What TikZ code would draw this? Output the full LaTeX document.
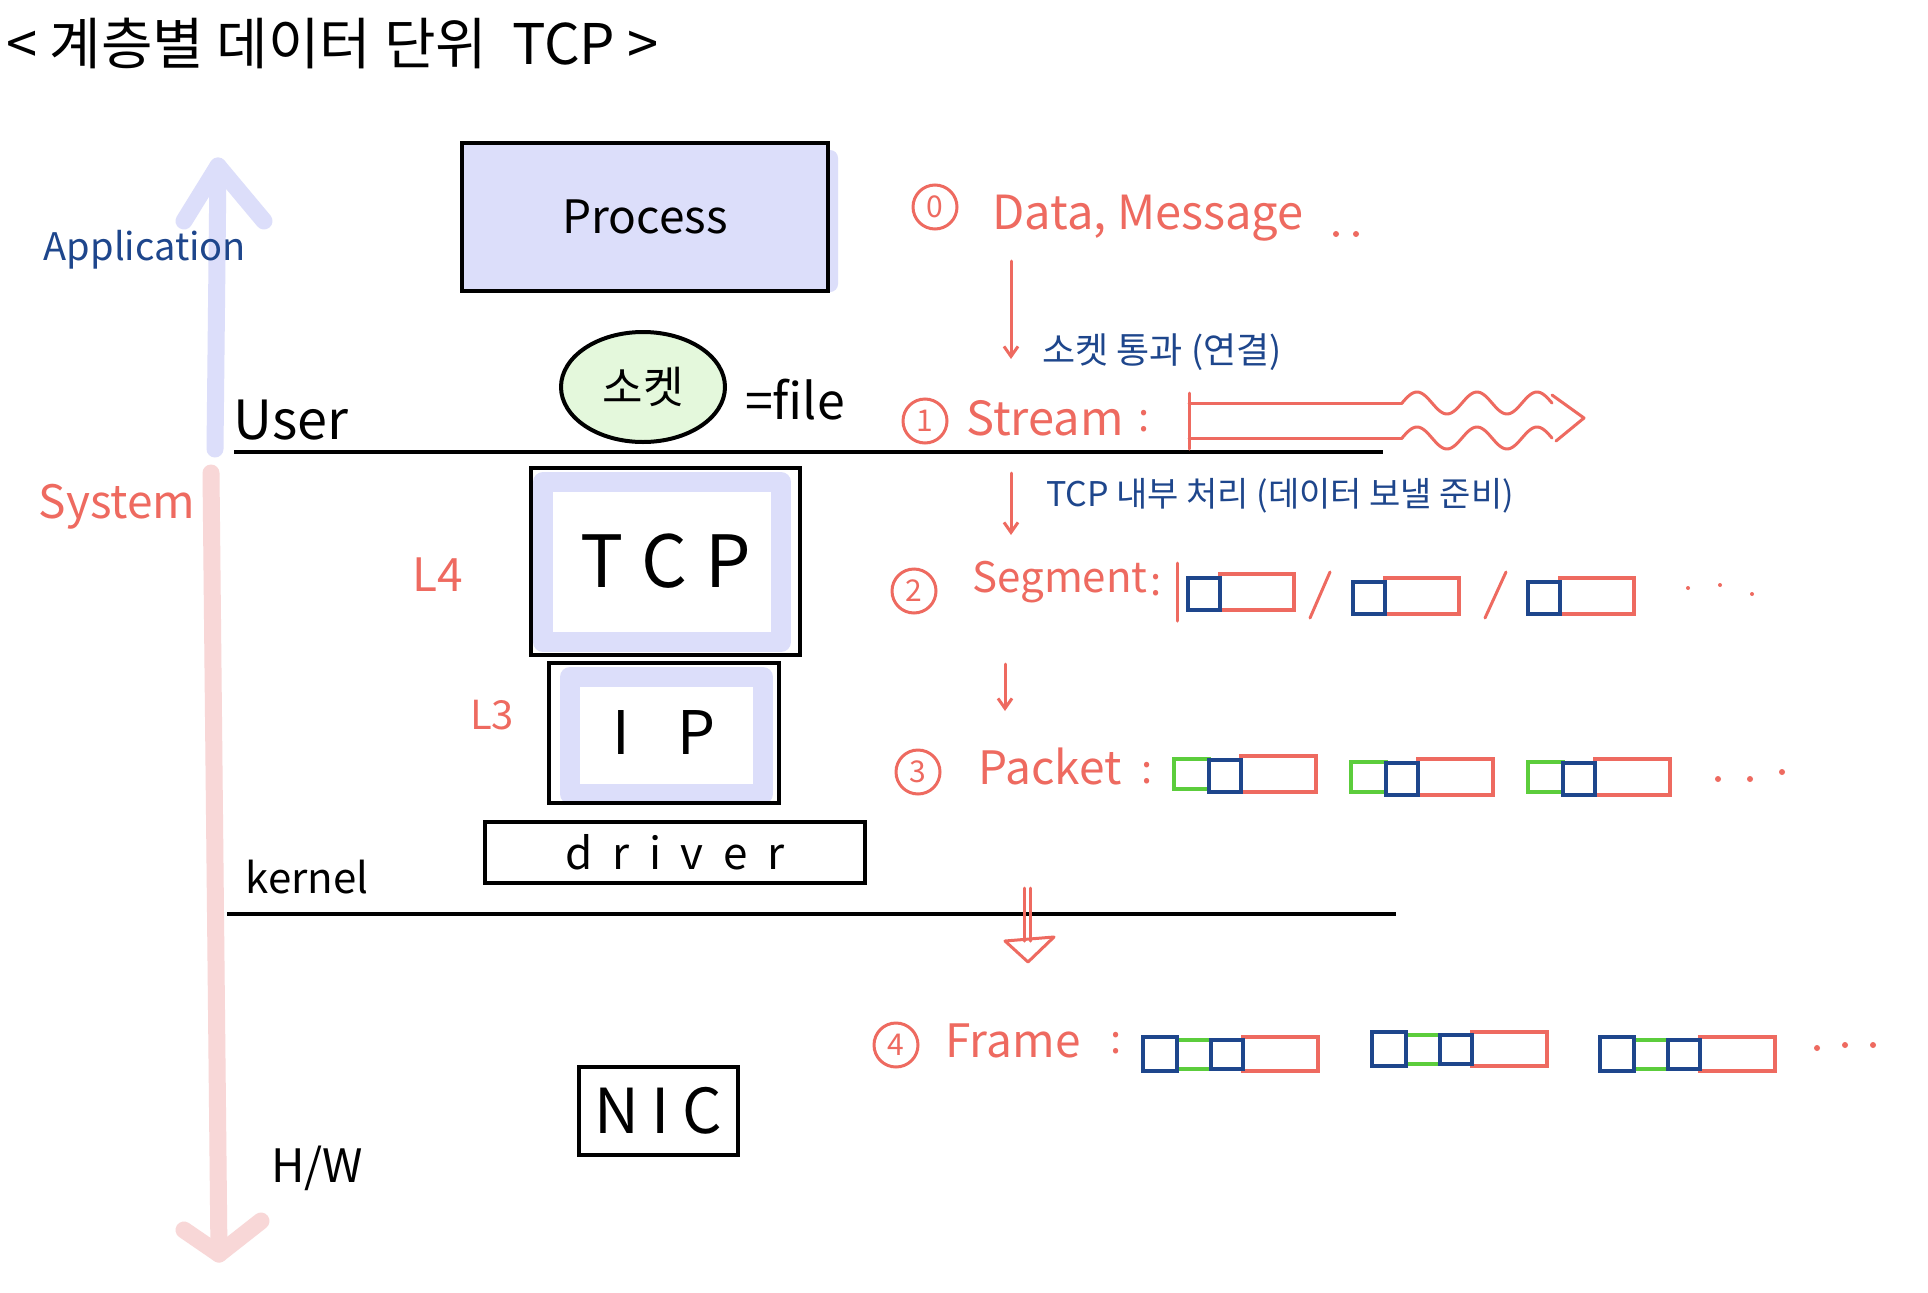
\documentclass[tikz,border=0pt]{standalone}
\usepackage{fontspec}
\setmainfont{Noto Sans CJK KR}
\usetikzlibrary{arrows.meta,shapes.geometric}
\definecolor{cred}{HTML}{EE6A60}
\definecolor{cblue}{HTML}{1E468C}
\definecolor{cgreen}{HTML}{5CCD3C}
\definecolor{lav}{HTML}{DCDEFA}
\definecolor{pinkc}{HTML}{F8D7D7}
\definecolor{lgreen}{HTML}{E4F8DC}
\newcommand\fsz[1]{\fontsize{#1}{#1}\selectfont}
\newcommand\SegUnit[2]{%
  \draw[redbox] ({#1+32},{#2-4}) rectangle ({#1+106},{#2+32});
  \draw[bluebox] (#1,#2) rectangle ({#1+32},{#2+32});}
\newcommand\PktUnit[2]{%
  \draw[redbox] ({#1+67},{#2-3}) rectangle ({#1+142},{#2+33});
  \draw[greenbox] (#1,#2) rectangle ({#1+35},{#2+30});
  \draw[bluebox] ({#1+35},{#2+1}) rectangle ({#1+67},{#2+33});}
\newcommand\FrmUnit[2]{%
  \draw[redbox] ({#1+100},#2) rectangle ({#1+175},{#2+34});
  \draw[greenbox] ({#1+34},{#2+3}) rectangle ({#1+68},{#2+32});
  \draw[bluebox] (#1,#2) rectangle ({#1+34},{#2+34});
  \draw[bluebox] ({#1+68},{#2+3}) rectangle ({#1+100},{#2+32});}
\begin{document}
\begin{tikzpicture}[x=1pt,y=-1pt,
  box/.style={draw=black, line width=4pt, inner sep=0pt},
  band/.style={draw=lav, line width=20pt, line join=round},
  redbox/.style={draw=cred, line width=4pt},
  bluebox/.style={draw=cblue, line width=4pt},
  greenbox/.style={draw=cgreen, line width=4pt},
  redline/.style={draw=cred, line width=3pt, line cap=round, line join=round},
  redarrow/.style={redline, -{Straight Barb[length=10pt,width=14pt,line width=3pt]}},
  circnum/.style={circle, draw=cred, line width=3pt, text=cred, minimum size=44pt, inner sep=0pt, font=\fsz{30}},
  redtxt/.style={text=cred, inner sep=0pt},
  bluetxt/.style={text=cblue, inner sep=0pt},
  blacktxt/.style={text=black, inner sep=0pt},
  layerline/.style={draw=black, line width=4pt},
  bigarrow/.style={line width=17pt, line cap=round, line join=round}
]
\useasboundingbox (0,0) rectangle (1928,1293);
\fill[white] (0,0) rectangle (1928,1293);

% title
\node[blacktxt, anchor=west, font=\fsz{56}] (title) at (6,43) {< 계층별 데이터 단위 \ TCP >};

% side arrows
\coordinate (appbot) at (215,449);
\coordinate (apptop) at (218,166);
\coordinate (appl) at (184,221);
\coordinate (appr) at (264,221);
\draw[lav, bigarrow] (appbot) -- (apptop);
\draw[lav, bigarrow] (appl) -- (apptop) -- (appr);
\coordinate (systop) at (211,473);
\coordinate (sysbot) at (219,1254);
\coordinate (sysl) at (184,1230);
\coordinate (sysr) at (261,1221);
\draw[pinkc, bigarrow] (systop) -- (sysbot);
\draw[pinkc, bigarrow] (sysl) -- (sysbot) -- (sysr);

\node[bluetxt, font=\fsz{38}] (application) at (145,250) {Application};
\node[redtxt, font=\fsz{46}] (system) at (117,507) {System};
\node[blacktxt, font=\fsz{54}] (user) at (291,420) {User};
\node[blacktxt, font=\fsz{42}] (kernel) at (307,877) {kernel};
\node[blacktxt, font=\fsz{46}] (hw) at (317,1168) {H/W};

% layer lines
\coordinate (ul1) at (234,452);
\coordinate (ul2) at (1383,452);
\coordinate (kl1) at (227,914);
\coordinate (kl2) at (1396,914);
\draw[layerline] (ul1) -- (ul2);
\draw[layerline] (kl1) -- (kl2);

% process
\fill[lav, rounded corners=8pt] (800,150) rectangle (838,292);
\node[box, fill=lav, minimum width=366pt, minimum height=148pt, font=\fsz{46}] (process) at (645,217) {Process};

% socket
\node[ellipse, draw=black, line width=4pt, fill=lgreen, minimum width=164pt, minimum height=110pt, inner sep=0pt, font=\fsz{44}] (socket) at (643,387) {소켓};
\node[blacktxt, font=\fsz{50}] (file) at (795,400) {=file};

% TCP
\draw[band] (543,482) rectangle (781,642);
\node[box, minimum width=269pt, minimum height=187pt, font=\fsz{72}] (tcp) at (665.5,561.5) {T\hspace{0.25em}C\hspace{0.25em}P};
% IP
\draw[band] (570,677) rectangle (763,794);
\node[box, minimum width=230pt, minimum height=140pt, font=\fsz{60}] (ip) at (664,733) {I\hspace{0.8em}P};
% driver
\node[box, minimum width=380pt, minimum height=61pt, font=\fsz{44}] (driver) at (675,852.5) {d\hspace{0.45em}r\hspace{0.45em}i\hspace{0.45em}v\hspace{0.45em}e\hspace{0.45em}r};
% NIC
\node[box, minimum width=159pt, minimum height=88pt, font=\fsz{62}] (nic) at (658.5,1111) {N\hspace{0.2em}I\hspace{0.2em}C};

\node[redtxt, font=\fsz{46}] (l4) at (438,575) {L4};
\node[redtxt, font=\fsz{40}] (l3) at (492,715) {L3};

% 0 Data
\node[circnum] (c0) at (935,207) {0};
\node[redtxt, font=\fsz{47}] (data) at (1148,218) {Data, Message};
\fill[cred] (1336,234) circle (3pt) (1356,234) circle (3pt);
\coordinate (a1s) at (1011,261);
\coordinate (a1e) at (1011,359);
\draw[redarrow] (a1s) -- (a1e);
\node[bluetxt, font=\fsz{36}] (sockpass) at (1162,352) {소켓 통과 (연결)};

% 1 Stream
\node[circnum] (c1) at (925,421) {1};
\node[redtxt, font=\fsz{47}] (stream) at (1045,418) {Stream};
\node[redtxt, font=\fsz{40}] (col1) at (1144,421) {:};
\coordinate (sb1) at (1189,393);
\coordinate (sb2) at (1189,449);
\draw[redline] (sb1) -- (sb2);
\coordinate (st0) at (1189,403);
\coordinate (st1) at (1402,403);
\coordinate (sbt0) at (1189,438);
\coordinate (sbt1) at (1402,438);
\draw[redline] (st0) -- (st1);
\draw[redline] (sbt0) -- (sbt1);
\draw[redline] plot[domain=0:150, samples=80] ({1402+\x},{403-11*sin(\x*6)});
\draw[redline] plot[domain=0:150, samples=80] ({1402+\x},{438-11*sin(\x*6)});
\coordinate (sh1) at (1552,395);
\coordinate (shtip) at (1584,418);
\coordinate (sh2) at (1556,441);
\draw[redline] (sh1) -- (shtip) -- (sh2);

\coordinate (a2s) at (1011,473);
\coordinate (a2e) at (1011,535);
\draw[redarrow] (a2s) -- (a2e);
\node[bluetxt, font=\fsz{34}] (tcpproc) at (1280,496) {TCP 내부 처리 (데이터 보낼 준비)};

% 2 Segment
\node[circnum] (c2) at (914,591) {2};
\node[redtxt, font=\fsz{42}] (segment) at (1060,582) {Segment};
\node[redtxt, font=\fsz{40}] (col2) at (1156,585) {:};
\coordinate (vb1) at (1177,563);
\coordinate (vb2) at (1177,621);
\draw[redline] (vb1) -- (vb2);
\SegUnit{1188}{578}
\SegUnit{1353}{582}
\SegUnit{1528}{582}
\coordinate (sl1a) at (1310,618);
\coordinate (sl1b) at (1330,572);
\coordinate (sl2a) at (1485,618);
\coordinate (sl2b) at (1506,572);
\draw[redline] (sl1a) -- (sl1b);
\draw[redline] (sl2a) -- (sl2b);
\fill[cred] (1688,588) circle (2pt) (1720,585) circle (2pt) (1752,594) circle (2pt);

\coordinate (a3s) at (1005,664);
\coordinate (a3e) at (1005,711);
\draw[redarrow] (a3s) -- (a3e);

% 3 Packet
\node[circnum] (c3) at (918,772) {3};
\node[redtxt, font=\fsz{46}] (packet) at (1050,766) {Packet};
\node[redtxt, font=\fsz{40}] (col3) at (1147,773) {:};
\PktUnit{1174}{759}
\PktUnit{1351}{762}
\PktUnit{1528}{762}
\fill[cred] (1718,779) circle (3pt) (1750,779) circle (3pt) (1782,772) circle (3pt);

% double arrow
\coordinate (da1s) at (1024,888);
\coordinate (da1e) at (1024,941);
\coordinate (da2s) at (1030,888);
\coordinate (da2e) at (1030,941);
\draw[redline] (da1s) -- (da1e);
\draw[redline] (da2s) -- (da2e);
\coordinate (dh1) at (1005,941);
\coordinate (dhtip) at (1028,962);
\coordinate (dh2) at (1054,937);
\draw[redline] (dh1) -- (dhtip) -- (dh2) -- cycle;

% 4 Frame
\node[circnum] (c4) at (896,1045) {4};
\node[redtxt, font=\fsz{46}] (frame) at (1013,1041) {Frame};
\node[redtxt, font=\fsz{40}] (col4) at (1116,1043) {:};
\FrmUnit{1143}{1037}
\FrmUnit{1372}{1032}
\FrmUnit{1600}{1037}
\fill[cred] (1817,1048) circle (3pt) (1845,1045) circle (3pt) (1873,1045) circle (3pt);
\end{tikzpicture}
\end{document}
